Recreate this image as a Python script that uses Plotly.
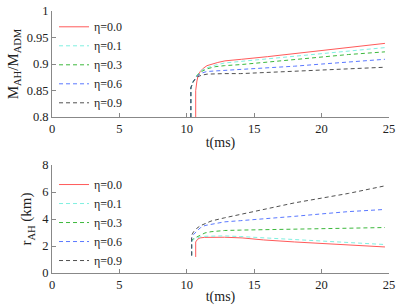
import plotly.graph_objects as go

# ---- data ----
names = ["η=0.0", "η=0.1", "η=0.3", "η=0.6", "η=0.9"]
colors = ["#ff5a5a", "#7ff0e0", "#3cb83c", "#5a78ff", "#505050"]
dashes = ["solid", "4px,3px", "4px,3px", "4px,3px", "4px,3px"]

# top panel: M_AH / M_ADM
t_top_red = [10.66, 10.66, 10.75, 10.85, 11.0, 11.22, 11.5, 11.85, 12.3, 12.83, 13.5, 14.07, 16, 18, 20, 22, 24.7]
m_red = [0.8, 0.85, 0.868, 0.879, 0.886, 0.892, 0.897, 0.900, 0.903, 0.906, 0.908, 0.909, 0.914, 0.920, 0.926, 0.932, 0.939]
t_top_dash = [10.3, 10.3, 10.45, 10.6, 10.8, 11.1, 11.5, 12.1, 12.8, 14, 16, 18, 20, 22, 24.7]
m_eta01 = [0.8, 0.855, 0.866, 0.873, 0.880, 0.888, 0.893, 0.898, 0.902, 0.905, 0.910, 0.915, 0.920, 0.925, 0.931]
m_eta03 = [0.8, 0.855, 0.866, 0.873, 0.880, 0.886, 0.891, 0.895, 0.897, 0.899, 0.904, 0.909, 0.914, 0.918, 0.923]
m_eta06 = [0.8, 0.855, 0.866, 0.872, 0.878, 0.883, 0.886, 0.887, 0.888, 0.889, 0.892, 0.896, 0.900, 0.904, 0.909]
m_eta09 = [0.8, 0.855, 0.865, 0.871, 0.876, 0.879, 0.881, 0.882, 0.882, 0.882, 0.884, 0.887, 0.889, 0.891, 0.894]

# bottom panel: r_AH (km)
t_bot_red = [10.66, 10.66, 10.8, 10.98, 11.3, 11.6, 12.8, 14.1, 15.7, 18, 20, 22, 24.7]
r_red = [1.19, 2.3, 2.5, 2.6, 2.64, 2.65, 2.65, 2.6, 2.45, 2.3, 2.18, 2.08, 1.93]
t_bot_dash = [10.36, 10.36, 10.5, 10.73, 11.0, 11.35, 11.8, 12.8, 14, 15.7, 18, 20, 22, 24.7]
r_eta01 = [1.3, 2.3, 2.5, 2.6, 2.68, 2.72, 2.74, 2.75, 2.7, 2.6, 2.48, 2.38, 2.27, 2.11]
r_eta03 = [1.3, 2.4, 2.55, 2.67, 2.82, 2.97, 3.06, 3.15, 3.18, 3.2, 3.25, 3.28, 3.32, 3.37]
r_eta06 = [1.3, 2.6, 2.85, 3.1, 3.35, 3.52, 3.62, 3.79, 3.88, 4.0, 4.2, 4.38, 4.55, 4.71]
r_eta09 = [1.3, 2.8, 3.05, 3.3, 3.5, 3.67, 3.85, 4.09, 4.35, 4.72, 5.2, 5.55, 5.9, 6.46]

x_ticks = [0, 5, 10, 15, 20, 25]
top_ticks = [0.8, 0.85, 0.9, 0.95, 1]
top_ticklabels = ["0.8", "0.85", "0.9", "0.95", "1"]
bot_ticks = [0, 2, 4, 6, 8]

top_series = [(t_top_red, m_red), (t_top_dash, m_eta01), (t_top_dash, m_eta03),
              (t_top_dash, m_eta06), (t_top_dash, m_eta09)]
bot_series = [(t_bot_red, r_red), (t_bot_dash, r_eta01), (t_bot_dash, r_eta03),
              (t_bot_dash, r_eta06), (t_bot_dash, r_eta09)]

FONT = "Liberation Serif, Times New Roman, serif"

fig = go.Figure()
for i, (tx, vy) in enumerate(top_series):
    fig.add_trace(go.Scatter(x=tx, y=vy, mode="lines", name=names[i],
                             line=dict(color=colors[i], width=1, dash=dashes[i]),
                             xaxis="x", yaxis="y", legend="legend"))
for i, (tx, vy) in enumerate(bot_series):
    fig.add_trace(go.Scatter(x=tx, y=vy, mode="lines", name=names[i],
                             line=dict(color=colors[i], width=1, dash=dashes[i]),
                             xaxis="x2", yaxis="y2", legend="legend2"))

axis_common = dict(showline=True, linecolor="#888888", linewidth=1, ticks="inside",
                   ticklen=4, tickcolor="#888888", showgrid=False, zeroline=False,
                   tickfont=dict(family=FONT, size=12.5, color="#222222"), mirror=False,
                   automargin=False)

fig.update_layout(
    width=399, height=305,
    margin=dict(l=52, r=10, t=11, b=32),
    paper_bgcolor="white", plot_bgcolor="white",
    font=dict(family=FONT, color="#222222"),
    xaxis=dict(domain=[0, 1], range=[0, 25], tickvals=x_ticks, anchor="y",
               title=dict(text="t(ms)", font=dict(family=FONT, size=14), standoff=2),
               **axis_common),
    yaxis=dict(domain=[0.595, 1], range=[0.8, 1], tickvals=top_ticks, ticktext=top_ticklabels,
               anchor="x",
               title=dict(text="M<sub>AH</sub>/M<sub>ADM</sub>", font=dict(family=FONT, size=15), standoff=4),
               **axis_common),
    xaxis2=dict(domain=[0, 1], range=[0, 25], tickvals=x_ticks, anchor="y2",
                title=dict(text="t(ms)", font=dict(family=FONT, size=14), standoff=2),
                **axis_common),
    yaxis2=dict(domain=[0, 0.412], range=[0, 8], tickvals=bot_ticks, anchor="x2",
                title=dict(text="r<sub>AH</sub> (km)", font=dict(family=FONT, size=15), standoff=6),
                **axis_common),
    legend=dict(x=0.006, y=0.995, xanchor="left", yanchor="top", bgcolor="rgba(0,0,0,0)",
                font=dict(family=FONT, size=12), tracegroupgap=0),
    legend2=dict(x=0.006, y=0.393, xanchor="left", yanchor="top", bgcolor="rgba(0,0,0,0)",
                 font=dict(family=FONT, size=12), tracegroupgap=0),
    showlegend=True,
)

fig.write_html("out.html", config={"displayModeBar": False},
               post_script="document.body.style.margin='0';")
